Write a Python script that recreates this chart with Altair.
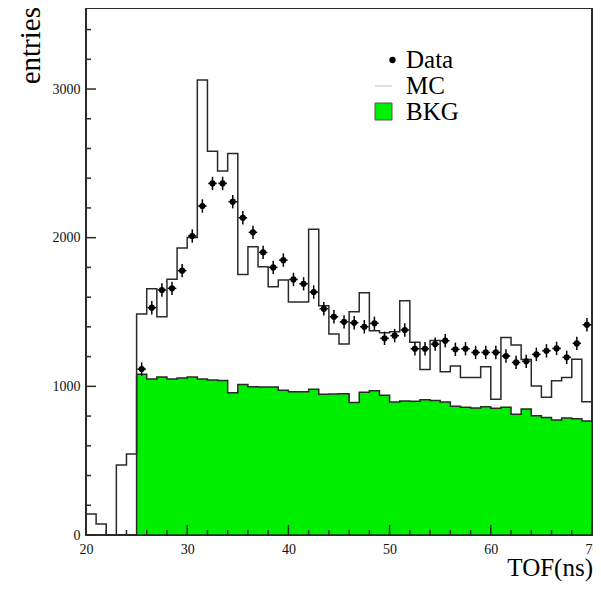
import altair as alt
import pandas as pd

# ---------------- data ----------------
mc_left_edges = list(range(20, 70))          # 1 ns bins, 20..69
mc_values = [141, 74, 0, 471, 545, 1486, 1656, 1468, 1721, 1930,
             2002, 3060, 2582, 2448, 2567, 1753, 1939, 1804, 1670, 1715,
             1567, 1567, 2056, 1542, 1352, 1284, 1502, 1630, 1374, 1360,
             1367, 1576, 1296, 1114, 1309, 1098, 1136, 1060, 1060, 1132,
             914, 1329, 1278, 1181, 1002, 926, 1038, 1060, 1183, 897]

bkg_left_edges = list(range(25, 70))         # 25..69
bkg_values = [1081, 1049, 1063, 1049, 1056, 1063, 1049, 1042, 1040, 957,
              1013, 997, 995, 995, 973, 964, 964, 980, 946, 948,
              950, 892, 960, 970, 940, 895, 901, 899, 910, 905,
              895, 866, 860, 854, 863, 852, 859, 812, 847, 802,
              791, 773, 787, 782, 767]

data_centers = [25.5 + i for i in range(46)]  # 25.5..70.5
data_values = [1116, 1529, 1648, 1659, 1778, 2011, 2213, 2365, 2365, 2242,
               2134, 2036, 1901, 1800, 1849, 1719, 1690, 1634, 1522, 1468,
               1434, 1428, 1401, 1424, 1323, 1341, 1379, 1253, 1253, 1284,
               1307, 1249, 1253, 1228, 1228, 1228, 1204, 1161, 1168, 1215,
               1239, 1255, 1195, 1289, 1414, 336]
data_err = 45          # vertical error half-length (entries)
data_xerr = 0.42       # horizontal bar half-length (ns)

x_tick_labels = [20, 30, 40, 50, 60, 70]
y_tick_labels = [0, 1000, 2000, 3000]
x_minor = [v for v in range(20, 71, 2) if v % 10]
y_minor = [v for v in range(0, 3545, 200) if v % 1000]

# ---------------- tables ----------------
mc_df = pd.DataFrame({"x": mc_left_edges + [70], "y": mc_values + [mc_values[-1]]})
bkg_df = pd.DataFrame({"x": bkg_left_edges + [70], "y": bkg_values + [bkg_values[-1]]})
dat_df = pd.DataFrame({"x": data_centers, "y": data_values})
dat_df["ylo"] = dat_df["y"] - data_err
dat_df["yhi"] = dat_df["y"] + data_err
dat_df["xlo"] = dat_df["x"] - data_xerr
dat_df["xhi"] = dat_df["x"] + data_xerr

W, H = 506, 527
FONT = "Liberation Serif"
GREEN = "#00ee00"
LINE = "#2a2a2a"

xscale = alt.Scale(domain=[20, 70], nice=False, zero=False)
yscale = alt.Scale(domain=[0, 3545], nice=False, zero=False)
xaxis = alt.Axis(values=x_tick_labels, format="d", ticks=False, domain=False, grid=False,
                 title=None, labelFont=FONT, labelFontSize=14, labelColor="#111",
                 labelPadding=7, labelFlush=False, labelOverlap=False)
yaxis = alt.Axis(values=y_tick_labels, format="d", ticks=False, domain=False, grid=False,
                 title=None, labelFont=FONT, labelFontSize=14, labelColor="#111",
                 labelPadding=6, labelOverlap=False)


def X(field="x"):
    return alt.X(f"{field}:Q", scale=xscale, axis=xaxis)


def Y(field="y"):
    return alt.Y(f"{field}:Q", scale=yscale, axis=yaxis)


bkg = alt.Chart(bkg_df).mark_area(interpolate="step-after", fill=GREEN, stroke=LINE,
                                  strokeWidth=1.5).encode(x=X(), y=Y())
mc = alt.Chart(mc_df).mark_line(interpolate="step-after", color=LINE,
                               strokeWidth=1.5).encode(x=X(), y=Y())
ebar_v = alt.Chart(dat_df).mark_rule(color="black", strokeWidth=1.5).encode(
    x=X(), y=Y("ylo"), y2="yhi:Q")
ebar_h = alt.Chart(dat_df).mark_rule(color="black", strokeWidth=1.5).encode(
    x=X("xlo"), x2="xhi:Q", y=Y())
pts = alt.Chart(dat_df).mark_circle(size=38, color="black", opacity=1).encode(x=X(), y=Y())

# inward ticks
xt_major = alt.Chart(pd.DataFrame({"t": x_tick_labels})).mark_rule(color=LINE, strokeWidth=1.5).encode(
    x=X("t"), y=alt.value(H), y2=alt.value(H - 10))
xt_minor = alt.Chart(pd.DataFrame({"t": x_minor})).mark_rule(color=LINE, strokeWidth=1.5).encode(
    x=X("t"), y=alt.value(H), y2=alt.value(H - 5))
yt_major = alt.Chart(pd.DataFrame({"t": y_tick_labels})).mark_rule(color=LINE, strokeWidth=1.5).encode(
    y=Y("t"), x=alt.value(0), x2=alt.value(10))
yt_minor = alt.Chart(pd.DataFrame({"t": y_minor})).mark_rule(color=LINE, strokeWidth=1.5).encode(
    y=Y("t"), x=alt.value(0), x2=alt.value(5))

one = pd.DataFrame({"k": [0]})
ytitle = alt.Chart(one).mark_text(text="entries", angle=270, align="right", baseline="alphabetic",
                                  font=FONT, fontSize=29, color="black").encode(
    x=alt.value(-46), y=alt.value(-1))
xtitle = alt.Chart(one).mark_text(text="TOF(ns)", align="right", baseline="alphabetic",
                                  font=FONT, fontSize=25, color="black").encode(
    x=alt.value(507), y=alt.value(568))

# legend
leg_dot = alt.Chart(one).mark_circle(size=40, color="black", opacity=1).encode(
    x=alt.value(306.5), y=alt.value(52))
leg_line = alt.Chart(one).mark_rule(color="#bbbbbb", strokeWidth=1).encode(
    x=alt.value(289), x2=alt.value(306), y=alt.value(78))
leg_box = alt.Chart(one).mark_rect(fill=GREEN, stroke="#555", strokeWidth=1).encode(
    x=alt.value(289), x2=alt.value(306), y=alt.value(95), y2=alt.value(112))
leg_txt = alt.Chart(pd.DataFrame({"lab": ["Data", "MC", "BKG"], "py": [60, 86, 112]})).mark_text(
    align="left", baseline="alphabetic", font=FONT, fontSize=25, color="black").encode(
    x=alt.value(320), y=alt.Y("py:Q", scale=None, axis=None), text="lab:N")

chart = alt.layer(
    bkg, mc, ebar_v, ebar_h, pts,
    xt_major, xt_minor, yt_major, yt_minor,
    ytitle, xtitle, leg_dot, leg_line, leg_box, leg_txt,
).properties(
    width=W, height=H,
    autosize=alt.AutoSizeParams(type="none"),
    padding={"left": 78, "top": 0, "right": 1, "bottom": 47},
    background="white",
).configure_view(stroke=LINE, strokeWidth=2)

chart.save("out.html", embed_options={"renderer": "svg", "actions": False})
